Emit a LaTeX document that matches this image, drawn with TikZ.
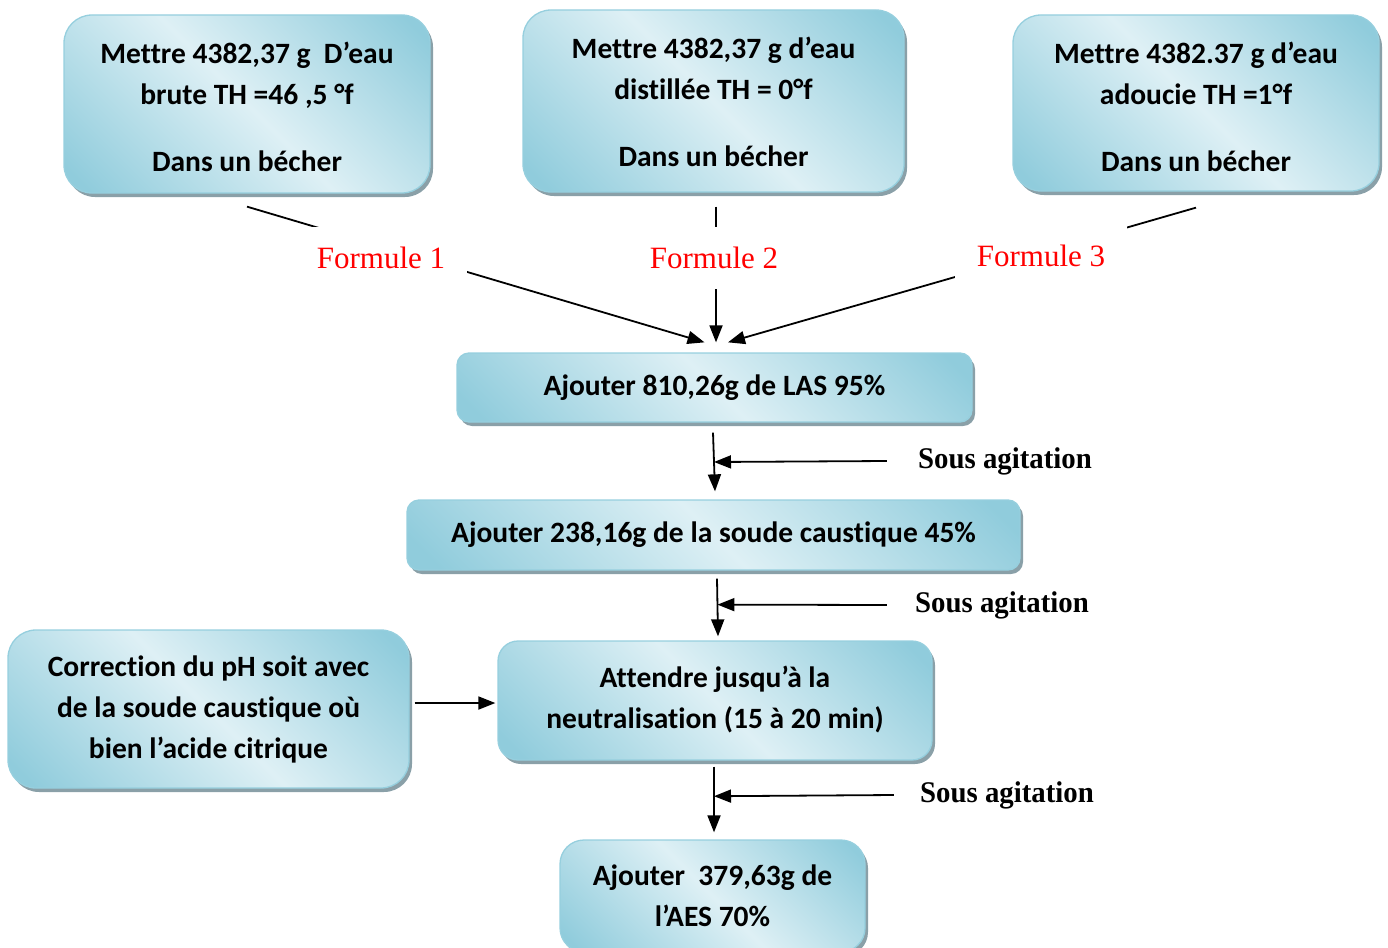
\documentclass[tikz,border=0pt]{standalone}
\usepackage{fontspec}
\usepackage{graphicx}
\setmainfont{Liberation Serif}
\newfontfamily\boxfont{Carlito}[Ligatures=NoCommon]
\usetikzlibrary{arrows.meta,shadows,calc}

\definecolor{bdark}{RGB}{144,204,220}
\definecolor{blight}{RGB}{222,240,245}
\definecolor{bedge}{RGB}{150,207,222}
\definecolor{bshadow}{RGB}{138,160,168}

% diagonal blue fill: dark towards two opposite corners, light along the main diagonal
\pgfdeclareverticalshading{boxshade}{100bp}{color(0bp)=(bdark); color(18bp)=(bdark); color(50bp)=(blight); color(82bp)=(bdark); color(100bp)=(bdark)}

\begin{document}
\begin{tikzpicture}[x=1pt,y=-1pt,
  stepbox/.style={rectangle, rounded corners=#1, draw=bedge, line width=1.3pt,
    shading=boxshade, shading angle=-45,
    drop shadow={shadow xshift=3pt,shadow yshift=-4pt,fill=bshadow,opacity=1},
    align=center, inner sep=0pt,
    font=\boxfont\bfseries\fontsize{29.5pt}{41pt}\selectfont},
  stepbox/.default=20pt,
  boxtext/.style={align=center, inner sep=0pt,
    font=\boxfont\bfseries\fontsize{29.5pt}{41pt}\selectfont},
  flabel/.style={fill=white, text=red, inner sep=0pt,
    minimum width=172pt, minimum height=62pt,
    font=\fontsize{31pt}{37pt}\selectfont},
  slabel/.style={inner sep=0pt, font=\bfseries\fontsize{30pt}{36pt}\selectfont},
  conn/.style={line width=1.8pt},
  arr/.style={conn, -{Triangle[length=17pt,width=13pt]}}
]
\useasboundingbox (0,0) rectangle (1388,947);
\clip (0,0) rectangle (1388,947);

% starting beakers
\node[stepbox=28pt, minimum width=366pt, minimum height=178pt] (b1) at (247,104) {};
\node[boxtext] (t1) at ($(b1.center)+(0,3)$)
  {Mettre 4382,37 g\ \ D’eau\\ brute TH =46 ,5 °f\\[26pt] Dans un bécher};
\node[stepbox=28pt, minimum width=381pt, minimum height=182pt] (b2) at (713.5,101) {};
\node[boxtext] (t2) at ($(b2.center)+(0,1)$)
  {Mettre 4382,37 g d’eau\\ distillée TH = 0°f\\[26pt] Dans un bécher};
\node[stepbox=28pt, minimum width=366pt, minimum height=176pt] (b3) at (1196,103) {};
\node[boxtext] (t3) at ($(b3.center)+(0,4)$)
  {Mettre 4382.37 g d’eau\\ adoucie TH =1°f\\[26pt] Dans un bécher};

% process steps
\node[stepbox=12pt, minimum width=515pt, minimum height=69pt] (las) at (714.5,387.5)
  {Ajouter 810,26g de LAS 95\%};
\node[stepbox=12pt, minimum width=613pt, minimum height=70pt] (soude) at (713.5,535)
  {Ajouter 238,16g de la soude caustique 45\%};
\node[stepbox=20pt, minimum width=434pt, minimum height=119pt] (att) at (715,700.5) {};
\node[boxtext] (t4) at ($(att.center)+(0,-1.5)$)
  {Attendre jusqu’à la\\ neutralisation (15 à 20 min)};
\node[stepbox=28pt, minimum width=401pt, minimum height=158pt] (corr) at (208.5,709)
  {Correction du pH soit avec\\ de la soude caustique où\\ bien l’acide citrique};
\node[stepbox=24pt, minimum width=305pt, minimum height=112pt] (aes) at (712.5,896)
  {Ajouter\ \ 379,63g de\\ l’AES 70\%};

% beakers into the LAS step
\draw[arr] ($(b1.south)+(0,13)$) -- ($(las.north)+(-10,-10)$);
\draw[arr] ($(b2.south)+(2.5,14)$) -- ($(las.north)+(1.5,-10)$);
\draw[arr] ($(b3.south)+(0,16)$) -- ($(las.north)+(13.5,-10)$);
\node[flabel] (f1) at (381,258) {Formule 1};
\node[flabel] (f2) at (714,258) {Formule 2};
\node[flabel] (f3) at (1041,256) {Formule 3};

% main chain
\coordinate (v1a) at ($(las.south)+(-1.5,10)$);
\coordinate (v1b) at ($(soude.north)+(1.5,-8)$);
\coordinate (v2a) at ($(soude.south)+(3.5,8)$);
\coordinate (v2b) at ($(att.north)+(3,-4)$);
\coordinate (v3a) at ($(att.south)+(-1,6)$);
\coordinate (v3b) at ($(aes.north)+(1.5,-7)$);
\draw[arr] (v1a) -- (v1b);
\draw[arr] (v2a) -- (v2b);
\draw[arr] (v3a) -- (v3b);
\draw[arr] ($(corr.east)+(5,-6)$) -- ($(att.west)+(-2,2.5)$);

% stirring notes
\node[slabel] (s1) at (1005,461) {\scalebox{0.96}[1]{Sous agitation}};
\node[slabel] (s2) at (1002,605) {\scalebox{0.96}[1]{Sous agitation}};
\node[slabel] (s3) at (1007,795) {\scalebox{0.96}[1]{Sous agitation}};
\coordinate (j1) at ($(v1a)!0.5!(v1b)$);
\coordinate (j2) at ($(v2a)!0.45!(v2b)$);
\coordinate (j3) at ($(v3a)!0.45!(v3b)$);
\draw[arr] ($(s1.west)+(-31,0)$) -- (j1);
\draw[arr] ($(s2.west)+(-28,0)$) -- (j2);
\draw[arr] ($(s3.west)+(-26,0)$) -- (j3);
\end{tikzpicture}
\end{document}
